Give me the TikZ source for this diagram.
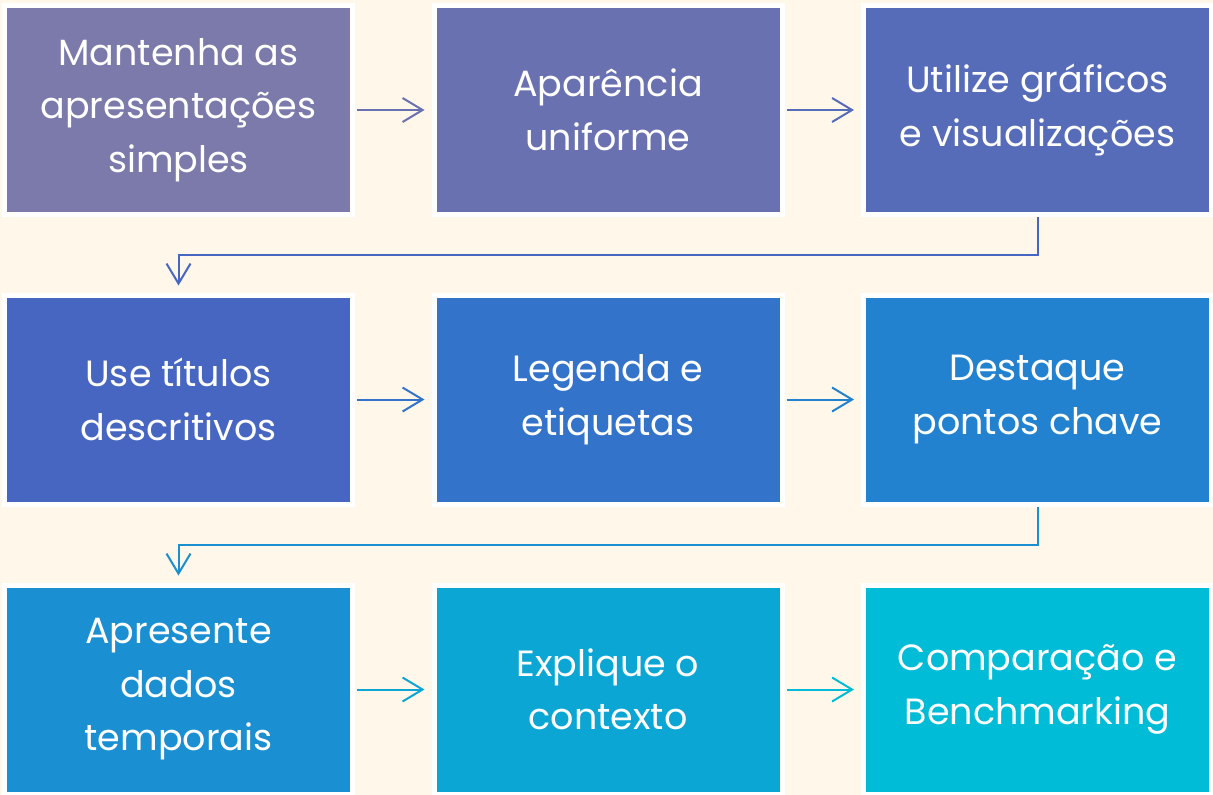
\documentclass[tikz,border=0pt]{standalone}
\usepackage{fontspec}
\setmainfont{Poppins}
\usetikzlibrary{arrows.meta}
\definecolor{bg}{HTML}{FFF7EA}
\definecolor{c1}{HTML}{7B7AAA}
\definecolor{c2}{HTML}{6A71B0}
\definecolor{c3}{HTML}{576CB9}
\definecolor{c4}{HTML}{4766C1}
\definecolor{c5}{HTML}{3373C9}
\definecolor{c6}{HTML}{2382D0}
\definecolor{c7}{HTML}{1A8FD2}
\definecolor{c8}{HTML}{0CA6D5}
\definecolor{c9}{HTML}{00BCD6}
\tikzset{
  stepbox/.style={draw=white, line width=5pt, minimum width=348pt, minimum height=209pt,
    text=white, align=center, inner sep=0pt, font=\fontsize{36.5}{53.5}\selectfont},
  arr/.style={line width=2pt, -{Straight Barb[length=20pt,width=24pt,line width=2pt]},
    shorten <=2pt, shorten >=7pt},
}
\begin{document}
\begin{tikzpicture}[x=1pt,y=-1pt]
\fill[bg] (0,0) rectangle (1213,795);
\useasboundingbox (0,0) rectangle (1213,795);
\node[stepbox, fill=c1] (b1) at (178.5,110) {Mantenha as\\apresentações\\simples};
\node[stepbox, fill=c2] (b2) at (608,110) {Aparência\\uniforme};
\node[stepbox, fill=c3] (b3) at (1037.5,110) {Utilize gráficos\\e visualizações};
\node[stepbox, fill=c4] (b4) at (178.5,399.5) {Use títulos\\descritivos};
\node[stepbox, fill=c5] (b5) at (608,399.5) {Legenda e\\etiquetas};
\node[stepbox, fill=c6] (b6) at (1037.5,399.5) {Destaque\\pontos chave};
\node[stepbox, fill=c7] (b7) at (178.5,689.5) {Apresente\\dados\\temporais};
\node[stepbox, fill=c8] (b8) at (608,689.5) {Explique o\\contexto};
\node[stepbox, fill=c9] (b9) at (1037.5,689.5) {Comparação e\\Benchmarking};
\draw[arr, draw=c2] (b1) -- (b2);
\draw[arr, draw=c3] (b2) -- (b3);
\draw[arr, draw=c4, shorten <=0pt] (b3.south) -- ++(0,38) -| (b4.north);
\draw[arr, draw=c5] (b4) -- (b5);
\draw[arr, draw=c6] (b5) -- (b6);
\draw[arr, draw=c7, shorten <=0pt] (b6.south) -- ++(0,38) -| (b7.north);
\draw[arr, draw=c8] (b7) -- (b8);
\draw[arr, draw=c9] (b8) -- (b9);
\end{tikzpicture}
\end{document}
